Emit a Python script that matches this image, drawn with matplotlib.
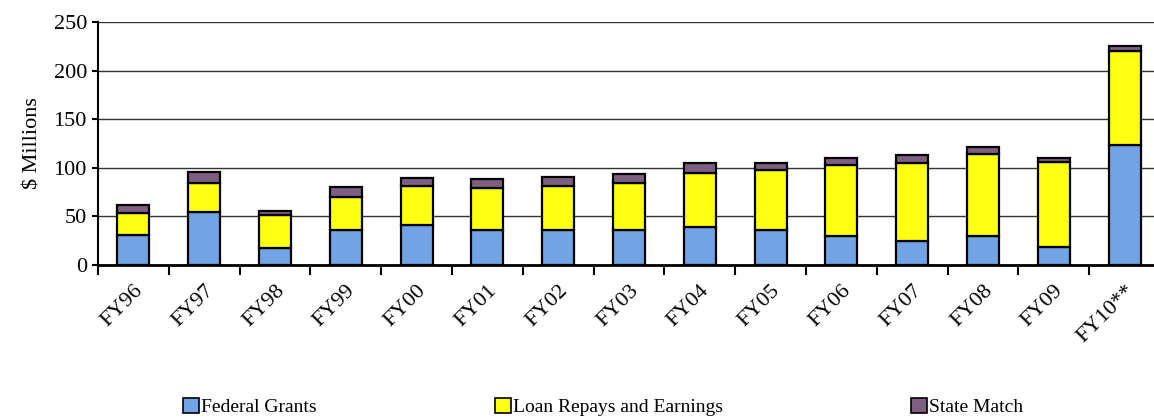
import numpy as np
import matplotlib
matplotlib.use("Agg")
import matplotlib.pyplot as plt
from matplotlib.patches import Patch

# values ($ millions)
years = ["FY96", "FY97", "FY98", "FY99", "FY00", "FY01", "FY02", "FY03",
         "FY04", "FY05", "FY06", "FY07", "FY08", "FY09", "FY10**"]
federal = [31, 55, 17, 36, 41, 36, 36, 36, 39, 36, 30, 25, 30, 19, 123]
loan = [23, 29, 34, 34, 40, 43, 45, 48, 56, 62, 73, 80, 84, 87, 97]
state = [8, 12, 5, 10, 8, 9, 10, 10, 10, 7, 7, 8, 7, 4, 5]

plt.rcParams['font.family'] = ['Liberation Serif', 'DejaVu Serif']

c_fed = '#72a3e6'
c_loan = '#ffff14'
c_state = '#7f5f80'

fig = plt.figure(figsize=(11.54, 4.19), dpi=100)
ax = fig.add_axes([98 / 1154, 154 / 419, 1062 / 1154, 243 / 419])

x = np.arange(len(years))
fed = np.array(federal)
ln = np.array(loan)
st = np.array(state)

w = 0.45
ax.bar(x, fed, w, color=c_fed, edgecolor='black', linewidth=1.6, zorder=3)
ax.bar(x, ln, w, bottom=fed, color=c_loan, edgecolor='black', linewidth=1.6, zorder=3)
ax.bar(x, st, w, bottom=fed + ln, color=c_state, edgecolor='black', linewidth=1.6, zorder=3)

ax.set_xlim(-0.5, len(years) - 0.5)
ax.set_ylim(0, 250)
ax.set_yticks([0, 50, 100, 150, 200, 250])
ax.yaxis.grid(True, color='#333333', linewidth=1.0, zorder=0)
ax.set_axisbelow(True)

# boundary ticks (major, unlabeled) and centre labels (minor)
ax.set_xticks(np.arange(len(years) + 1) - 0.5)
ax.set_xticklabels([])
ax.set_xticks(x, minor=True)
ax.set_xticklabels(years, minor=True, rotation=45, ha='right', va='top',
                   rotation_mode='anchor', fontsize=16)
ax.tick_params(axis='x', which='major', length=7, width=1.5, direction='out')
ax.tick_params(axis='x', which='minor', length=0, pad=12)
ax.tick_params(axis='y', length=4, width=1.5, labelsize=16, pad=4)

for s in ['top', 'right']:
    ax.spines[s].set_visible(False)
ax.spines['left'].set_linewidth(1.5)
ax.spines['bottom'].set_linewidth(2)

ax.set_ylabel("$ Millions", fontsize=16, labelpad=8)

# legend, three entries spread across the bottom
names = ["Federal Grants", "Loan Repays and Earnings", "State Match"]
cols = [c_fed, c_loan, c_state]
xpos = [183, 495, 911]
for nm, cl, xp in zip(names, cols, xpos):
    h = Patch(facecolor=cl, edgecolor='black', linewidth=1.2)
    fig.legend(handles=[h], labels=[nm], loc='center left',
               bbox_to_anchor=(xp / 1154, 1 - 407 / 419), frameon=False,
               fontsize=14, handlelength=0.8, handleheight=0.8,
               handletextpad=0.15, borderpad=0, borderaxespad=0)

fig.savefig("out.png", dpi=100)
